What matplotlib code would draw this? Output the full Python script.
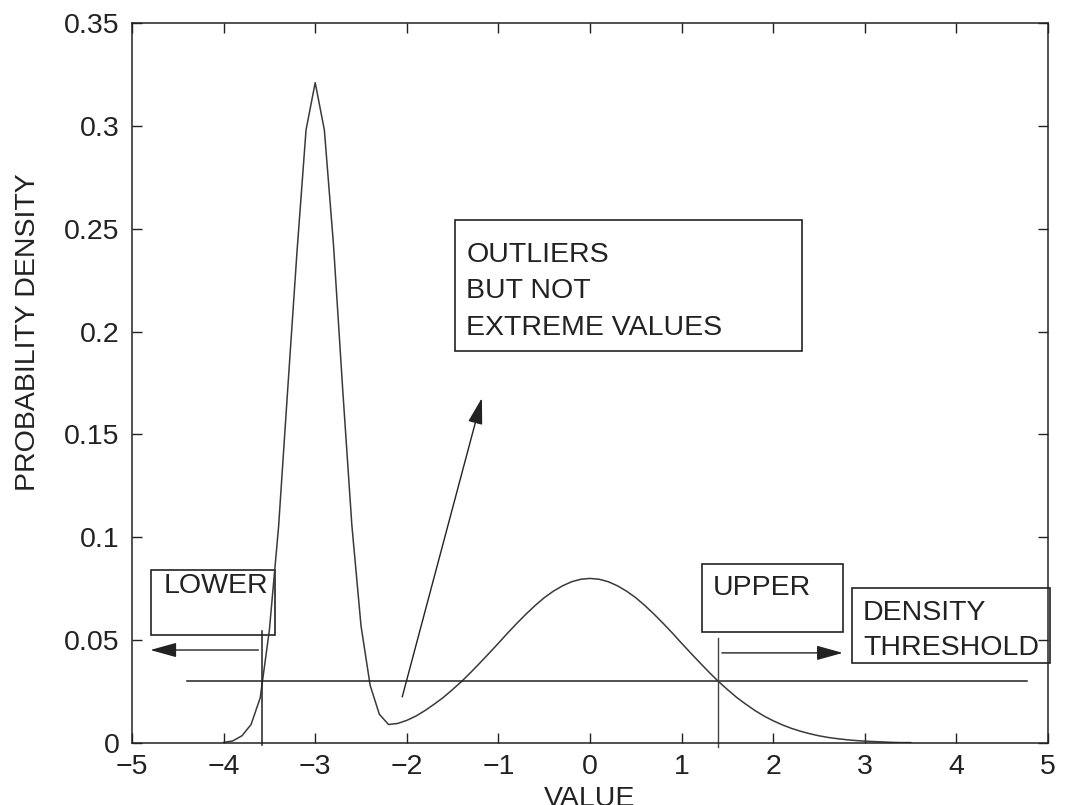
import matplotlib
matplotlib.use("Agg")
import matplotlib.pyplot as plt
from matplotlib.patches import Rectangle, FancyArrowPatch

plt.rcParams['font.family'] = ['Liberation Sans', 'DejaVu Sans']

# curve (step 0.1)
value = [-4.0, -3.9, -3.8, -3.7, -3.6, -3.5, -3.4, -3.3, -3.2, -3.1,
         -3.0, -2.9, -2.8, -2.7, -2.6, -2.5, -2.4, -2.3, -2.2, -2.1,
         -2.0, -1.9, -1.8, -1.7, -1.6, -1.5, -1.4, -1.3, -1.2, -1.1,
         -1.0, -0.9, -0.8, -0.7, -0.6, -0.5, -0.4, -0.3, -0.2, -0.1,
         0.0, 0.1, 0.2, 0.3, 0.4, 0.5, 0.6, 0.7, 0.8, 0.9,
         1.0, 1.1, 1.2, 1.3, 1.4, 1.5, 1.6, 1.7, 1.8, 1.9,
         2.0, 2.1, 2.2, 2.3, 2.4, 2.5, 2.6, 2.7, 2.8, 2.9,
         3.0, 3.1, 3.2, 3.3, 3.4, 3.5]
density = [0.0003, 0.001, 0.0035, 0.009, 0.022, 0.055, 0.105, 0.172, 0.238, 0.298,
           0.321, 0.298, 0.242, 0.172, 0.106, 0.057, 0.028, 0.014, 0.009, 0.0095,
           0.011, 0.0131, 0.0158, 0.0189, 0.0222, 0.026, 0.030, 0.0344, 0.039, 0.0437,
           0.0485, 0.0534, 0.0581, 0.0626, 0.0668, 0.0706, 0.0738, 0.0764, 0.0784, 0.0796,
           0.080, 0.0796, 0.0784, 0.0764, 0.0738, 0.0706, 0.0668, 0.0626, 0.0581, 0.0534,
           0.0485, 0.0437, 0.039, 0.0344, 0.030, 0.026, 0.0222, 0.0189, 0.0158, 0.0131,
           0.0108, 0.0088, 0.0071, 0.0057, 0.0045, 0.0035, 0.0027, 0.0021, 0.0016, 0.0012,
           0.0009, 0.0007, 0.0005, 0.0003, 0.0002, 0.0002]

threshold = 0.03
threshold_span = [-4.40, 4.77]
lower_cut = -3.58
upper_cut = 1.40

xticks = [-5, -4, -3, -2, -1, 0, 1, 2, 3, 4, 5]
xticklabels = ['\u22125', '\u22124', '\u22123', '\u22122', '\u22121', '0', '1', '2', '3', '4', '5']
yticks = [0, 0.05, 0.1, 0.15, 0.2, 0.25, 0.3, 0.35]
yticklabels = ['0', '0.05', '0.1', '0.15', '0.2', '0.25', '0.3', '0.35']

ink = '#222222'
fs = 20.5

fig = plt.figure(figsize=(10.7, 8.05), dpi=100)
ax = fig.add_axes([132 / 1070, 62 / 805, 916 / 1070, 720 / 805])

ax.plot(value, density, color='#3a3a3a', lw=1.1)
ax.plot(threshold_span, [threshold, threshold], color=ink, lw=1.1)
ax.plot([lower_cut, lower_cut], [-0.001, 0.0545], color=ink, lw=1.1, clip_on=False)
ax.plot([upper_cut, upper_cut], [-0.002, 0.051], color='#444444', lw=1.0, clip_on=False)

ax.set_xlim(-5, 5)
ax.set_ylim(0, 0.35)
ax.set_xticks(xticks)
ax.set_xticklabels(xticklabels)
ax.set_yticks(yticks)
ax.set_yticklabels(yticklabels)
ax.tick_params(direction='in', length=7, width=1, top=True, right=True,
               labelsize=fs, colors=ink)
ax.tick_params(axis='x', pad=8)
ax.tick_params(axis='y', pad=9)
for s in ax.spines.values():
    s.set_linewidth(1.1)
    s.set_color(ink)

ax.set_xlabel('VALUE', fontsize=fs, color=ink, labelpad=4)
ax.set_ylabel('PROBABILITY DENSITY', fontsize=fs, color=ink, va='center')
ax.yaxis.set_label_coords(-0.114, 0.57)

# boxes: (x0, y0, x1, y1) in data units
boxes = [(-4.79, 0.0525, -3.44, 0.0841),
         (1.22, 0.054, 2.76, 0.087),
         (2.86, 0.0389, 5.02, 0.0754),
         (-1.47, 0.1906, 2.31, 0.2543)]
for x0, y0, x1, y1 in boxes:
    ax.add_patch(Rectangle((x0, y0), x1 - x0, y1 - y0, fill=False,
                           edgecolor=ink, lw=1.2, clip_on=False))

txt = dict(fontsize=fs, color=ink, va='baseline', ha='left')
ax.text(-4.66, 0.0729, 'LOWER', **txt)
ax.text(1.34, 0.072, 'UPPER', **txt)
ax.text(2.98, 0.0598, 'DENSITY', **txt)
ax.text(2.98, 0.0428, 'THRESHOLD', **txt)
ax.text(-1.35, 0.2338, 'OUTLIERS', **txt)
ax.text(-1.35, 0.2163, 'BUT NOT', **txt)
ax.text(-1.35, 0.1983, 'EXTREME VALUES', **txt)

arrows = [((-3.62, 0.0452), (-4.80, 0.0452)),
          ((1.44, 0.0438), (2.76, 0.0438)),
          ((-2.05, 0.0224), (-1.18, 0.1677))]
for start, end in arrows:
    ax.add_patch(FancyArrowPatch(start, end, arrowstyle='-|>,head_length=0.9,head_width=0.25',
                                 mutation_scale=18, color=ink, lw=1.0,
                                 shrinkA=0, shrinkB=0))

fig.savefig('out.png', dpi=100)
